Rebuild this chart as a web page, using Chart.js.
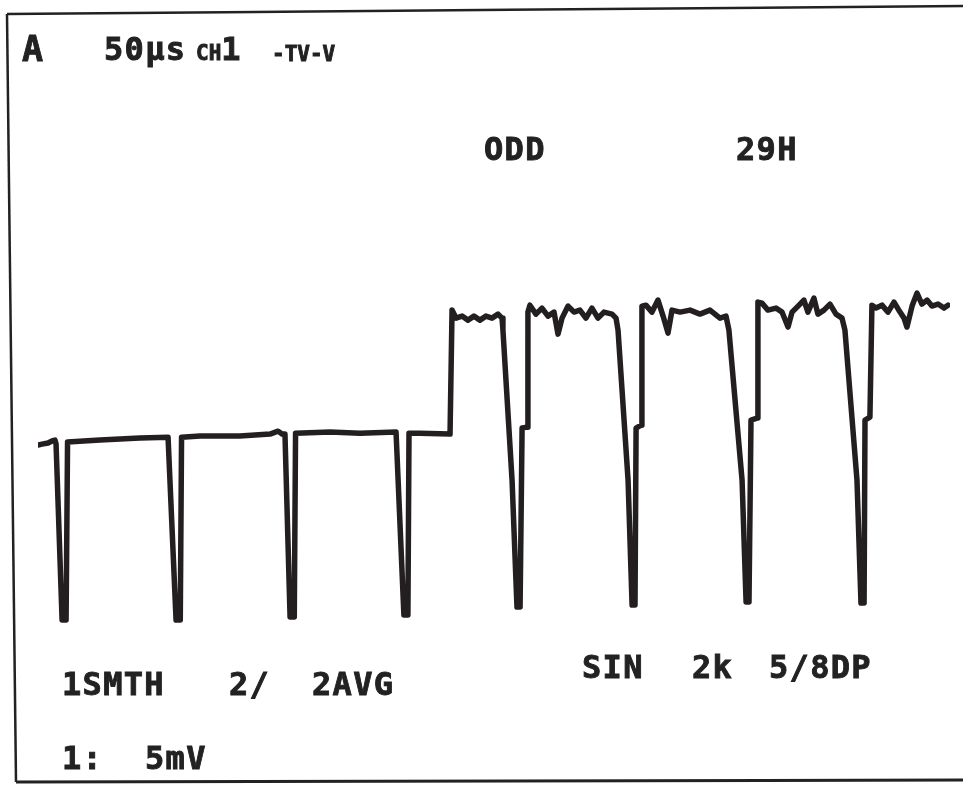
<!DOCTYPE html>
<html>
<head>
<meta charset="utf-8">
<script src="https://cdn.jsdelivr.net/npm/chart.js@4"></script>
<style>
  html, body { margin: 0; padding: 0; background: #fff; }
  #page { position: relative; width: 963px; height: 787px; overflow: hidden; background: #fff; }
  #scope { position: absolute; left: 0; top: 0; }
  #frame { position: absolute; left: 0; top: 0; }
  .lbl {
    position: absolute;
    font-family: "DejaVu Sans Mono", monospace;
    font-weight: bold;
    font-size: 32px;
    letter-spacing: 1.3px;
    line-height: 32px;
    color: #222;
    -webkit-text-stroke: 0.9px #222;
    white-space: pre;
  }
  .sm { font-size: 21px; letter-spacing: 0; }
</style>
</head>
<body>
<div id="page">
  <canvas id="scope" width="963" height="787"></canvas>
  <svg id="frame" width="963" height="787">
    <line x1="7" y1="14" x2="963" y2="6" stroke="#222" stroke-width="2.5"/>
    <line x1="7" y1="14" x2="16" y2="782" stroke="#222" stroke-width="2.5"/>
    <line x1="16" y1="782" x2="963" y2="780" stroke="#222" stroke-width="3"/>
  </svg>
  <div class="lbl" style="left:22px;top:33px;font-size:35px">A</div>
  <div class="lbl" style="left:104px;top:33px">50µs</div>
  <div class="lbl" style="left:196px;top:33px"><span class="sm">CH</span>1</div>
  <div class="lbl sm" style="left:272px;top:38px">-TV-V</div>
  <div class="lbl" style="left:484px;top:133px">ODD</div>
  <div class="lbl" style="left:736px;top:133px">29H</div>
  <div class="lbl" style="left:62px;top:668px">1SMTH</div>
  <div class="lbl" style="left:229px;top:668px">2/</div>
  <div class="lbl" style="left:312px;top:668px">2AVG</div>
  <div class="lbl" style="left:582px;top:651px">SIN</div>
  <div class="lbl" style="left:692px;top:651px">2k</div>
  <div class="lbl" style="left:769px;top:651px">5/8DP</div>
  <div class="lbl" style="left:62px;top:742px">1:</div>
  <div class="lbl" style="left:145px;top:742px">5mV</div>
</div>
<script>
// sweep: 50 us/div, 5 mV/div, 10 divisions across
const sweepUs = [0, 500];
const rangeMv = [-17, 22];

// trace: time (us) and level (mV), blanking = 0
const traceTimeUs = [
  0, 2.2, 5.5, 7.7, 9.3, 9.9, 13.2, 15.4, 16.2, 34.0, 55.9, 71.3,
  71.8, 75.7, 78.0, 78.7, 88.8, 110.7, 127.2, 131.6, 133.8,
  135.4, 138.2, 140.5, 141.2, 160.1, 176.5, 196.3,
  196.8, 200.6, 202.8, 203.4, 209.4, 225.9,
  226.4, 227.0,
  229.2, 232.5, 235.7, 239.0, 242.3, 245.6, 248.9, 252.2, 254.4,
  254.9, 259.9, 262.6, 264.3, 265.4, 268.1, 268.6,
  269.7, 273.0, 276.3, 279.6, 282.9, 285.1, 287.3, 290.6, 293.9, 297.1, 300.4, 303.7, 307.0, 310.3, 314.7, 316.9,
  318.0, 323.5, 325.7, 327.3, 327.9, 330.6, 331.1,
  333.3, 336.6, 339.9, 342.7, 345.4, 347.6, 352.0, 357.5, 362.9, 368.4, 373.9, 377.2,
  378.8, 386.0, 388.2, 389.8, 390.9, 394.2, 394.7,
  396.9, 400.2, 404.6, 407.9, 411.2, 413.4, 416.7, 419.9, 422.1, 425.4, 427.6, 430.9, 434.2, 437.5, 440.8,
  442.4, 449.0, 451.2, 452.9, 453.4, 456.1, 457.2,
  459.4, 462.7, 466.0, 469.3, 472.6, 474.8, 476.4, 479.2, 481.9, 484.6, 487.4, 490.1, 493.4, 496.7, 498.9
];
const traceMv = [
  -0.27, -0.22, -0.16, -0.05, 0, -0.22, -9.87, -9.87, -0.11, 0.0, 0.11, 0.16,
  0.16, -9.87, -9.87, 0.16, 0.22, 0.22, 0.33, 0.49, 0.33,
  0.33, -9.70, -9.70, 0.38, 0.44, 0.38, 0.44,
  0.44, -9.59, -9.59, 0.38, 0.38, 0.33,
  0.33, 7.13,
  6.69, 6.80, 6.58, 6.80, 6.58, 6.80, 6.69, 6.91, 6.69,
  6.03, -2.19, -9.16, -9.16, 0.66, 0.71, 7.02,
  7.40, 6.91, 7.24, 6.80, 7.02, 5.81, 6.69, 7.35, 7.02, 7.13, 6.69, 7.24, 6.69, 7.02, 6.91, 6.69,
  6.03, -2.19, -9.05, -9.05, 0.66, 0.82, 7.35,
  7.40, 7.02, 7.68, 6.80, 5.87, 7.13, 7.02, 7.13, 6.91, 7.13, 6.69, 6.80,
  6.03, -2.19, -8.88, -8.88, 1.10, 1.21, 7.57,
  7.51, 7.13, 7.24, 7.02, 6.20, 7.02, 7.35, 7.68, 7.02, 7.79, 6.91, 7.13, 7.46, 6.91, 6.69,
  6.03, -2.19, -8.94, -8.94, 1.10, 1.26, 7.40,
  7.24, 7.40, 7.02, 7.57, 7.02, 6.69, 6.20, 7.35, 8.06, 7.46, 7.68, 7.35, 7.46, 7.24, 7.40
];

const tracePoints = traceTimeUs.map((t, i) => ({ x: t, y: traceMv[i] }));

const ctx = document.getElementById('scope').getContext('2d');
const scopeChart = new Chart(ctx, {
  type: 'line',
  data: {
    datasets: [
      {
        label: 'CH1',
        data: tracePoints,
        borderColor: '#231f20',
        borderWidth: 5.5,
        borderJoinStyle: 'round',
        borderCapStyle: 'round',
        pointRadius: 0,
        tension: 0,
        fill: false,
      },
    ],
  },
  options: {
    responsive: false,
    animation: false,
    layout: { padding: { left: 38, right: 13, top: 39, bottom: 37 } },
    scales: {
      x: { type: 'linear', min: sweepUs[0], max: sweepUs[1], display: false },
      y: { type: 'linear', min: rangeMv[0], max: rangeMv[1], display: false },
    },
    plugins: {
      legend: { display: false },
      tooltip: { enabled: false },
    },
  },
});
</script>
</body>
</html>
